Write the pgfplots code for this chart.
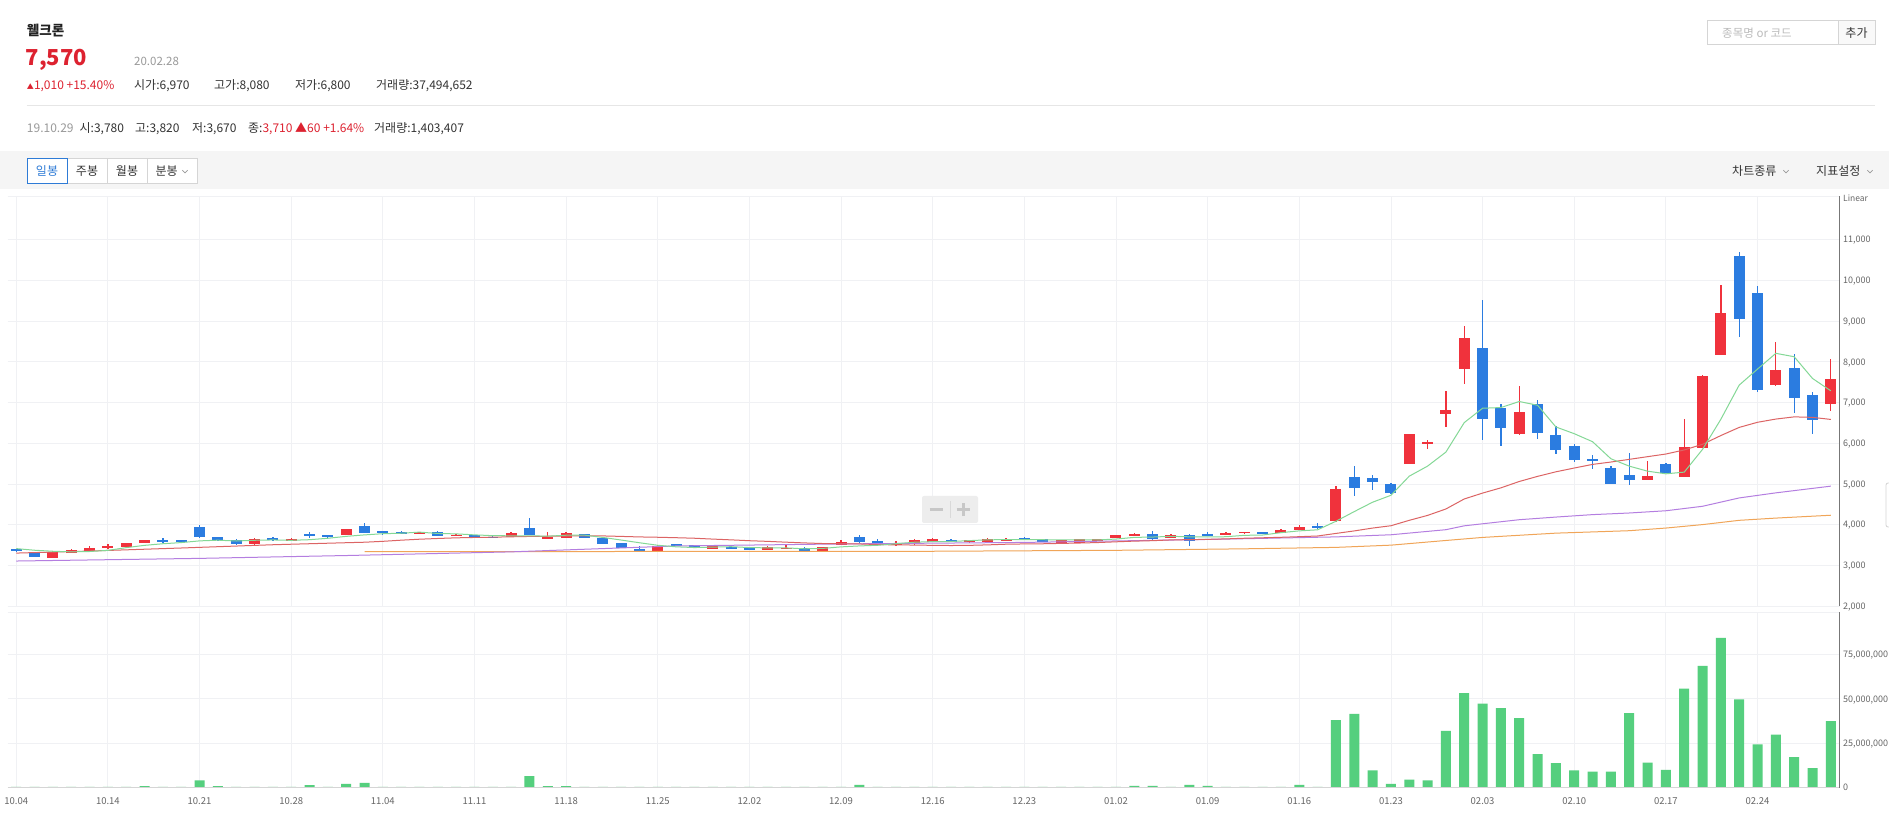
\documentclass[border=0pt]{standalone}
\usepackage{pgfplots}
\pgfplotsset{compat=1.18}
\usepackage{pgfplotstable}
\usepackage{fontspec}
\setmainfont{Noto Sans CJK KR}
\definecolor{gridc}{HTML}{F0F1F4}
\definecolor{tickc}{HTML}{666666}
\definecolor{axisc}{HTML}{777777}
\definecolor{bandc}{HTML}{F5F5F5}
\definecolor{linec}{HTML}{E6E6E6}
\definecolor{btnb}{HTML}{D5D5D5}
\definecolor{upred}{HTML}{F0323C}
\definecolor{downblue}{HTML}{2B7CE0}
\definecolor{volgreen}{HTML}{55CF7E}
\definecolor{maA}{HTML}{84D896}
\definecolor{maB}{HTML}{DC6464}
\definecolor{maC}{HTML}{B47EE0}
\definecolor{maD}{HTML}{F0A558}
\definecolor{hdrred}{HTML}{DD2230}
\definecolor{txt}{HTML}{222222}
\definecolor{txtb}{HTML}{333333}
\definecolor{graytxt}{HTML}{999999}
\definecolor{selblue}{HTML}{2E7BD6}
\definecolor{phc}{HTML}{BBBBBB}

\pgfplotstableread{
d o h l c
2 3190 3340 3180 3335
3 3305 3395 3295 3370
4 3345 3465 3340 3435
5 3425 3520 3410 3485
6 3450 3555 3445 3550
7 3550 3630 3545 3615
13 3515 3665 3510 3655
15 3615 3660 3610 3650
18 3740 3900 3735 3895
22 3770 3830 3765 3820
24 3720 3780 3715 3745
27 3695 3810 3690 3805
29 3650 3810 3640 3690
30 3680 3825 3675 3795
35 3350 3490 3345 3485
38 3410 3480 3405 3475
41 3385 3485 3380 3450
42 3400 3490 3395 3435
44 3330 3455 3325 3450
45 3500 3610 3495 3565
48 3500 3600 3480 3555
49 3515 3635 3510 3630
50 3580 3665 3575 3640
52 3565 3630 3560 3625
53 3565 3665 3560 3655
54 3600 3665 3595 3655
57 3555 3620 3550 3615
58 3555 3655 3550 3650
59 3615 3655 3610 3650
60 3665 3740 3660 3740
61 3720 3785 3715 3780
63 3670 3780 3665 3740
66 3740 3810 3735 3785
67 3785 3830 3780 3830
69 3795 3885 3790 3875
70 3870 3985 3865 3945
72 4080 4960 4060 4880
76 5490 6230 5480 6220
77 5990 6070 5860 6040
78 6710 7290 6400 6810
79 7820 8870 7450 8580
82 6220 7410 6190 6770
89 5090 5570 5090 5190
91 5170 6600 5160 5900
92 5890 7670 5880 7660
93 8170 9880 8160 9210
96 7430 8480 7410 7800
99 6970 8080 6800 7570
}\upc

\pgfplotstableread{
d o h l c
0 3390 3405 3335 3345
1 3320 3335 3200 3215
8 3615 3670 3555 3565
9 3615 3625 3570 3575
10 3945 3990 3680 3695
11 3695 3700 3600 3630
12 3630 3635 3510 3515
14 3670 3700 3590 3615
16 3780 3820 3670 3710
17 3740 3745 3680 3690
19 3960 4035 3790 3795
20 3835 3840 3750 3795
21 3830 3835 3765 3770
23 3830 3835 3725 3730
25 3745 3750 3660 3670
26 3705 3710 3665 3670
28 3910 4150 3735 3740
31 3760 3775 3675 3680
32 3680 3685 3520 3525
33 3555 3560 3415 3420
34 3410 3475 3340 3350
36 3520 3530 3480 3490
37 3500 3510 3430 3435
39 3450 3460 3395 3400
40 3425 3430 3370 3375
43 3425 3460 3345 3360
46 3695 3745 3560 3565
47 3600 3645 3510 3515
51 3630 3640 3575 3580
55 3670 3685 3625 3630
56 3640 3650 3570 3575
62 3760 3835 3610 3655
64 3745 3780 3475 3590
65 3770 3825 3715 3720
68 3810 3820 3775 3780
71 3960 4030 3880 3920
73 5170 5440 4710 4900
74 5150 5210 4845 5050
75 5000 5010 4750 4780
80 8330 9510 6070 6600
81 6860 6960 5930 6370
83 6970 7060 6100 6250
84 6190 6420 5730 5840
85 5920 5990 5540 5580
86 5620 5710 5370 5560
87 5400 5440 4990 5000
88 5230 5750 4980 5090
90 5480 5520 5260 5260
94 10600 10700 8600 9050
95 9690 9860 7250 7310
97 7840 8190 6750 7110
98 7190 7260 6220 6560
}\downc

\pgfplotstableread{
d v
0 0.3
1 0.3
2 0.3
3 0.3
4 0.3
5 0.3
6 0.3
7 0.8
8 0.3
9 0.3
10 4.0
11 0.8
12 0.3
13 0.3
14 0.3
15 0.3
16 1.4
17 0.3
18 2.1
19 2.6
20 0.3
21 0.3
22 0.3
23 0.3
24 0.3
25 0.3
26 0.3
27 0.3
28 6.4
29 0.8
30 0.8
31 0.3
32 0.3
33 0.3
34 0.3
35 0.3
36 0.3
37 0.3
38 0.3
39 0.3
40 0.3
41 0.3
42 0.3
43 0.3
44 0.3
45 0.3
46 1.5
47 0.3
48 0.3
49 0.3
50 0.3
51 0.3
52 0.3
53 0.3
54 0.3
55 0.3
56 0.3
57 0.3
58 0.3
59 0.3
60 0.3
61 0.9
62 0.9
63 0.3
64 1.5
65 0.9
66 0.3
67 0.3
68 0.3
69 0.3
70 1.5
71 0.3
72 38.0
73 41.6
74 9.6
75 2.1
76 4.5
77 4.0
78 32.0
79 53.3
80 47.3
81 44.8
82 39.2
83 18.8
84 13.8
85 9.6
86 9.0
87 9.0
88 42.0
89 14.1
90 10.0
91 55.8
92 68.6
93 84.4
94 49.7
95 24.3
96 29.8
97 17.1
98 10.9
99 37.5
}\volt

\pgfplotsset{
  chartaxis/.style={
    scale only axis, width=1832pt,
    xmin=-0.45, xmax=99.5,
    scaled x ticks=false, scaled y ticks=false,
    axis line style={draw=none},
    major tick length=0pt,
    grid=major, major grid style={color=gridc, line width=0.8pt},
    xtick={0,5,...,95},
    yticklabel pos=right,
    yticklabel style={anchor=base west, inner sep=0pt, xshift=3pt, yshift=-3.2pt,
      font=\fontsize{9}{10}\selectfont, text=tickc},
    xticklabel style={anchor=base, inner sep=0pt, yshift=-17pt,
      font=\fontsize{9.5}{10}\selectfont, text=tickc},
  },
  wick/.style={draw=none, forget plot, error bars/.cd, y dir=both, y explicit, error mark=none,
      error bar style={draw=#1, line width=1.3pt}},
  body/.style={draw=none, forget plot, error bars/.cd, y dir=both, y explicit, error mark=none,
      error bar style={draw=#1, line width=11pt}},
}

\newcommand{\chev}[2]{\draw[graytxt, line width=0.7pt] (#1-2.6pt,#2+1.3pt) -- (#1,#2-1.3pt) -- (#1+2.6pt,#2+1.3pt);}
\newcommand{\hf}{\fontsize{12}{14}\selectfont}

\begin{document}
\begin{tikzpicture}
\useasboundingbox[fill=white] (0pt,0pt) rectangle (1889pt,814pt);

% ---------- header ----------
\node[anchor=base west, inner sep=0pt, font=\fontsize{13.5}{15}\selectfont\bfseries, text=txt] at (26.8pt,778.6pt) {웰크론};
\node[anchor=base west, inner sep=0pt, font=\fontsize{22}{24}\selectfont\bfseries, text=hdrred] at (25.5pt,748pt) {7,570};
\node[anchor=base west, inner sep=0pt, font=\fontsize{11.5}{13}\selectfont, text=graytxt] at (134pt,748pt) {20.02.28};

\node[anchor=base west, inner sep=0pt, font=\hf, text=hdrred] at (26.8pt,724pt) {{\fontsize{7}{8}\selectfont ▲}1,010 +15.40\%};
\node[anchor=base west, inner sep=0pt, font=\hf, text=txtb] at (134pt,724pt) {시가:6,970};
\node[anchor=base west, inner sep=0pt, font=\hf, text=txtb] at (214pt,724pt) {고가:8,080};
\node[anchor=base west, inner sep=0pt, font=\hf, text=txtb] at (295pt,724pt) {저가:6,800};
\node[anchor=base west, inner sep=0pt, font=\hf, text=txtb] at (376pt,724pt) {거래량:37,494,652};

\draw[linec, line width=0.8pt] (26.8pt,709pt) -- (1875pt,709pt);

\node[anchor=base west, inner sep=0pt, font=\hf, text=graytxt] at (26.8pt,681.7pt) {19.10.29};
\node[anchor=base west, inner sep=0pt, font=\hf, text=txtb] at (79.5pt,681.7pt) {시:3,780};
\node[anchor=base west, inner sep=0pt, font=\hf, text=txtb] at (135pt,681.7pt) {고:3,820};
\node[anchor=base west, inner sep=0pt, font=\hf, text=txtb] at (192pt,681.7pt) {저:3,670};
\node[anchor=base west, inner sep=0pt, font=\hf, text=txtb] at (248pt,681.7pt) {종:\textcolor{hdrred}{3,710 ▲60 +1.64\%}};
\node[anchor=base west, inner sep=0pt, font=\hf, text=txtb] at (374pt,681.7pt) {거래량:1,403,407};

% search box
\draw[btnb, fill=white, line width=0.8pt] (1707pt,769.7pt) rectangle (1838pt,793.3pt);
\draw[btnb, fill=bandc!60, line width=0.8pt] (1838pt,769.7pt) rectangle (1875pt,793.3pt);
\node[anchor=base west, inner sep=0pt, font=\fontsize{11.5}{13}\selectfont, text=phc] at (1722pt,776.8pt) {종목명 or 코드};
\node[anchor=base, inner sep=0pt, font=\hf, text=txtb] at (1856.5pt,776.8pt) {추가};

% toolbar band
\fill[bandc] (0pt,625pt) rectangle (1889pt,663.3pt);
\draw[btnb, fill=white, line width=0.8pt] (67pt,631pt) rectangle (107pt,656pt);
\draw[btnb, fill=white, line width=0.8pt] (107pt,631pt) rectangle (147pt,656pt);
\draw[btnb, fill=white, line width=0.8pt] (147pt,631pt) rectangle (197pt,656pt);
\draw[selblue, fill=white, line width=0.9pt] (27pt,631pt) rectangle (67pt,656pt);
\node[anchor=base, inner sep=0pt, font=\hf, text=selblue] at (47pt,638.5pt) {일봉};
\node[anchor=base, inner sep=0pt, font=\hf, text=txtb] at (87pt,638.5pt) {주봉};
\node[anchor=base, inner sep=0pt, font=\hf, text=txtb] at (127pt,638.5pt) {월봉};
\node[anchor=base west, inner sep=0pt, font=\hf, text=txtb] at (155.5pt,638.5pt) {분봉};
\chev{185pt}{642.5pt}
\node[anchor=base west, inner sep=0pt, font=\hf, text=txtb] at (1732pt,638.5pt) {차트종류};
\chev{1786pt}{642.5pt}
\node[anchor=base west, inner sep=0pt, font=\hf, text=txtb] at (1816pt,638.5pt) {지표설정};
\chev{1870pt}{642.5pt}

% ---------- price panel ----------
\begin{axis}[chartaxis,
  at={(8pt,208pt)}, anchor=south west, height=410pt,
  ymin=2000, ymax=12074,
  xticklabels={},
  ytick={2000,3000,...,11000},
  yticklabels={{2,000},{3,000},{4,000},{5,000},{6,000},{7,000},{8,000},{9,000},{10,000},{11,000}},
]
\addplot[wick=upred] table[x=d, y expr={(\thisrow{h}+\thisrow{l})/2}, y error expr={(\thisrow{h}-\thisrow{l})/2}] {\upc};
\addplot[wick=downblue] table[x=d, y expr={(\thisrow{h}+\thisrow{l})/2}, y error expr={(\thisrow{h}-\thisrow{l})/2}] {\downc};
\addplot[body=upred] table[x=d, y expr={(\thisrow{o}+\thisrow{c})/2}, y error expr={abs(\thisrow{c}-\thisrow{o})/2}] {\upc};
\addplot[body=downblue] table[x=d, y expr={(\thisrow{o}+\thisrow{c})/2}, y error expr={abs(\thisrow{c}-\thisrow{o})/2}] {\downc};

% 120-day
\addplot[maD, line width=1pt] coordinates {(19,3335) (30,3338) (40,3342) (50,3345) (60,3368) (67,3405) (72,3440) (75,3495) (78,3610) (80,3685) (84,3790) (88,3850) (90,3915) (92,4000) (94,4105) (96,4160) (99,4230)};
% 60-day
\addplot[maC, line width=1pt] coordinates {(0,3105) (10,3170) (18,3240) (27,3330) (36,3475) (45,3525) (55,3562) (65,3635) (72,3698) (75,3750) (78,3875) (79,3970) (80,4020) (82,4120) (84,4185) (86,4245) (88,4285) (90,4340) (92,4450) (94,4655) (96,4780) (99,4945)};
% 20-day
\addplot[maB, line width=1pt] coordinates {(0,3300) (4,3350) (9,3425) (14,3505) (18,3555) (19,3567) (20,3589) (21,3617) (22,3641) (23,3659) (24,3675) (25,3684) (26,3691) (27,3700) (28,3709) (29,3714) (30,3719) (31,3722) (32,3722) (33,3710) (34,3697) (35,3689) (36,3678) (37,3665) (38,3644) (39,3625) (40,3604) (41,3588) (42,3568) (43,3550) (44,3535) (45,3530) (46,3525) (47,3510) (48,3501) (49,3498) (50,3490) (51,3486) (52,3490) (53,3502) (54,3518) (55,3525) (56,3529) (57,3538) (58,3547) (59,3559) (60,3577) (61,3594) (62,3605) (63,3624) (64,3630) (65,3638) (66,3649) (67,3665) (68,3676) (69,3688) (70,3703) (71,3720) (72,3783) (73,3845) (74,3915) (75,3972) (76,4105) (77,4226) (78,4384) (79,4630) (80,4774) (81,4903) (82,5059) (83,5185) (84,5297) (85,5390) (86,5479) (87,5537) (88,5603) (89,5669) (90,5734) (91,5834) (92,5973) (93,6188) (94,6388) (95,6514) (96,6593) (97,6647) (98,6635) (99,6584)};
% 5-day
\addplot[maA, line width=1pt] coordinates {(0,3410) (1,3370) (2,3345) (3,3330) (4,3339) (5,3367) (6,3434) (7,3490) (8,3530) (9,3558) (10,3600) (11,3617) (12,3597) (13,3615) (14,3623) (15,3614) (16,3629) (17,3664) (18,3711) (19,3747) (20,3776) (21,3788) (22,3815) (23,3782) (24,3772) (25,3748) (26,3728) (27,3725) (28,3726) (29,3715) (30,3739) (31,3741) (32,3685) (33,3621) (34,3554) (35,3492) (36,3454) (37,3436) (38,3447) (39,3457) (40,3436) (41,3428) (42,3428) (43,3405) (44,3415) (45,3453) (46,3476) (47,3492) (48,3531) (49,3567) (50,3582) (51,3585) (52,3606) (53,3626) (54,3631) (55,3630) (56,3628) (57,3626) (58,3625) (59,3623) (60,3645) (61,3686) (62,3694) (63,3712) (64,3700) (65,3697) (66,3702) (67,3736) (68,3744) (69,3802) (70,3846) (71,3872) (72,4082) (73,4320) (74,4550) (75,4720) (76,5190) (77,5437) (78,5782) (79,6506) (80,6859) (81,6876) (82,7024) (83,6933) (84,6399) (85,6234) (86,6037) (87,5618) (88,5437) (89,5313) (90,5248) (91,5289) (92,5848) (93,6588) (94,7427) (95,7821) (96,8208) (97,8125) (98,7591) (99,7287)};

\draw[gridc, line width=0.8pt] (rel axis cs:0,1) -- (rel axis cs:1,1);
\draw[axisc, line width=1pt] (rel axis cs:1,0) -- (rel axis cs:1,1);
\end{axis}

% ---------- volume panel ----------
\begin{axis}[chartaxis,
  at={(8pt,26.5pt)}, anchor=south west, height=175.5pt,
  ymin=0, ymax=99,
  xticklabels={10.04,10.14,10.21,10.28,11.04,11.11,11.18,11.25,12.02,12.09,12.16,12.23,01.02,01.09,01.16,01.23,02.03,02.10,02.17,02.24},
  ytick={0,25,50,75},
  yticklabels={0,{25,000,000},{50,000,000},{75,000,000}},
]
\addplot[ybar, bar width=10pt, fill=volgreen, draw=none] table[x=d, y=v] {\volt};
\draw[gridc, line width=0.8pt] (rel axis cs:0,1) -- (rel axis cs:1,1);
\draw[btnb, line width=1pt] (rel axis cs:0,0) -- (rel axis cs:1,0);
\draw[axisc, line width=1pt] (rel axis cs:1,0) -- (rel axis cs:1,1);
\end{axis}

\node[anchor=base west, inner sep=0pt, font=\fontsize{8.5}{9}\selectfont, text=tickc] at (1843pt,612pt) {Linear};

% zoom widget
\fill[rounded corners=2pt, black!7] (922pt,291pt) rectangle (978pt,318pt);
\draw[white!85!black, line width=0.8pt] (950.5pt,296pt) -- (950.5pt,313pt);
\draw[black!22, line width=2.6pt] (929.5pt,304.5pt) -- (943pt,304.5pt);
\draw[black!22, line width=2.6pt] (956.5pt,304.5pt) -- (970pt,304.5pt);
\draw[black!22, line width=2.6pt] (963.25pt,297.8pt) -- (963.25pt,311.2pt);
\draw[btnb, line width=0.8pt, rounded corners=2pt] (1895pt,287pt) -- (1886pt,287pt) -- (1886pt,331pt) -- (1895pt,331pt);
\end{tikzpicture}
\end{document}
